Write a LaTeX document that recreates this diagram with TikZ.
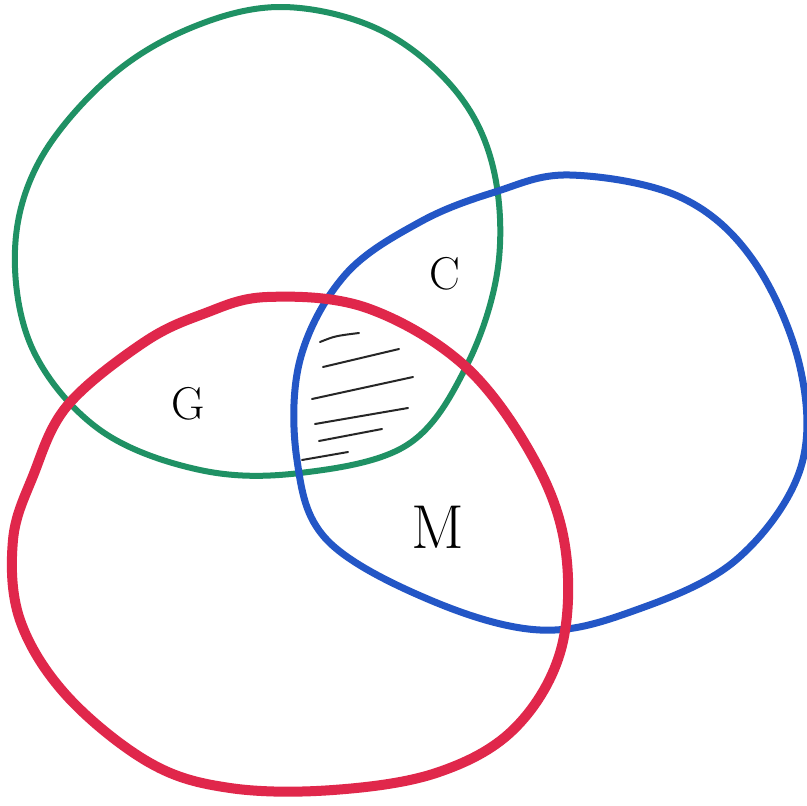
\documentclass[tikz,border=0pt]{standalone}
\definecolor{vgreen}{HTML}{1F9164}
\definecolor{vblue}{HTML}{2356C6}
\definecolor{vred}{HTML}{E0274B}
\begin{document}
\begin{tikzpicture}[x=1pt,y=-1pt,
  hatchline/.style={line width=2pt, line cap=round, black!85},
  lbl/.style={font=\fontsize{46}{46}\selectfont, inner sep=0pt}]
\useasboundingbox (0,0) rectangle (807,806);
\fill[white] (0,0) rectangle (807,806);
% green circle
\draw[vgreen, line width=6pt, line join=round] plot[smooth cycle, tension=0.6] coordinates {
(283,7) (380,30) (455,90) (493,167) (498,267) (466,367) (407,445) (300,473)
(200,470) (100,430) (33,350) (15,250) (40,160) (110,77) (193,27)};
% blue circle
\draw[vblue, line width=7pt, line join=round] plot[smooth cycle, tension=0.6] coordinates {
(570,175) (680,197) (753,260) (800,367) (800,470) (736,560) (636,610) (540,630)
(430,600) (327,540) (297,460) (300,360) (345,275) (420,222) (495,192)};
% red circle
\draw[vred, line width=10pt, line join=round] plot[smooth cycle, tension=0.6] coordinates {
(267,297) (367,308) (466,367) (536,463) (566,553) (560,653) (513,730) (436,773)
(333,790) (230,788) (150,763) (67,696) (20,620) (13,540) (33,476) (67,406)
(143,343) (203,314)};
% hatching
\draw[hatchline] (320,342) .. controls (335,336) .. (359,333);
\draw[hatchline] (323,367) -- (399,349);
\draw[hatchline] (312,399) -- (413,377);
\draw[hatchline] (315,424) -- (408,408);
\draw[hatchline] (319,441) -- (382,429);
\draw[hatchline] (302,460) -- (348,452);
% labels
\node[lbl] (g) at (188,404) {G};
\node[lbl] (c) at (445,274) {C};
\node[lbl, font=\fontsize{62}{62}\selectfont] (m) at (438,527) {M};
\end{tikzpicture}
\end{document}
